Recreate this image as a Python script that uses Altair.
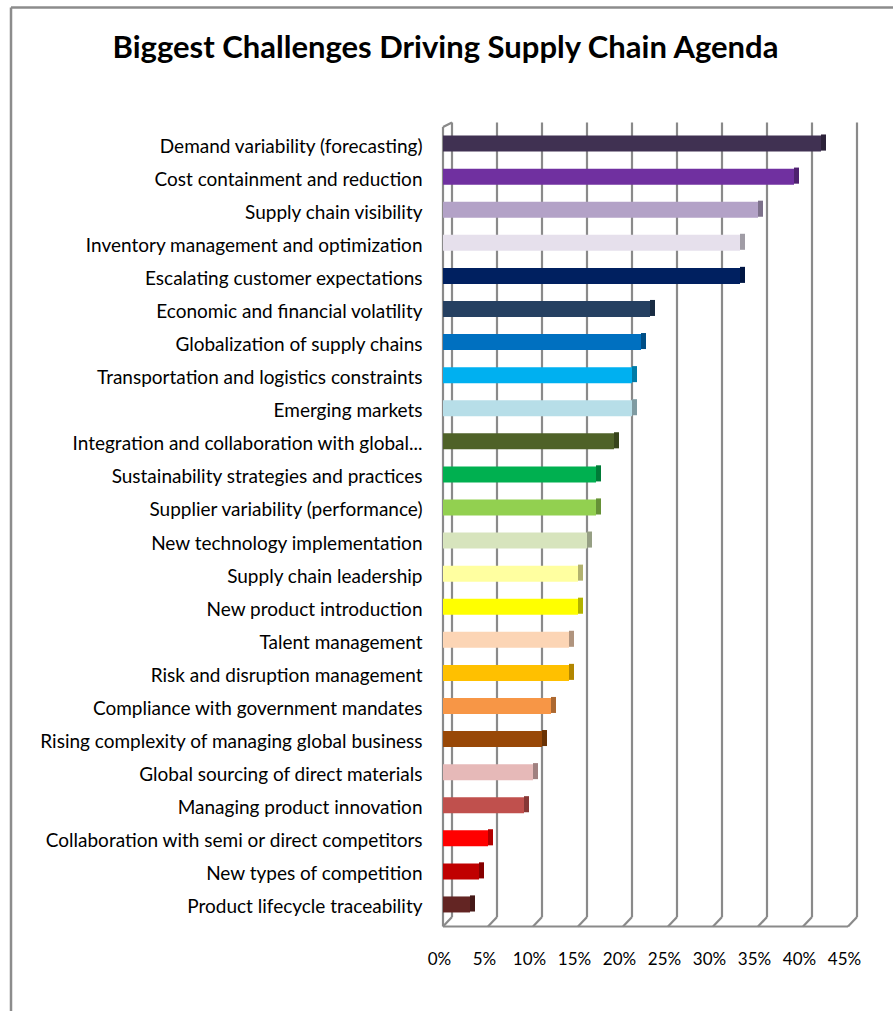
import altair as alt
import pandas as pd

title_text = "Biggest Challenges Driving Supply Chain Agenda"
categories = [
    "Demand variability (forecasting)",
    "Cost containment and reduction",
    "Supply chain visibility",
    "Inventory management and optimization",
    "Escalating customer expectations",
    "Economic and financial volatility",
    "Globalization of supply chains",
    "Transportation and logistics constraints",
    "Emerging markets",
    "Integration and collaboration with global...",
    "Sustainability strategies and practices",
    "Supplier variability (performance)",
    "New technology implementation",
    "Supply chain leadership",
    "New product introduction",
    "Talent management",
    "Risk and disruption management",
    "Compliance with government mandates",
    "Rising complexity of managing global business",
    "Global sourcing of direct materials",
    "Managing product innovation",
    "Collaboration with semi or direct competitors",
    "New types of competition",
    "Product lifecycle traceability",
]
values = [42, 39, 35, 33, 33, 23, 22, 21, 21, 19, 17, 17, 16, 15, 15, 14, 14, 12, 11, 10, 9, 5, 4, 3]
colors = [
    "#403152", "#7030A0", "#B3A2C7", "#E6E0EC", "#002060", "#254061",
    "#0070C0", "#00B0F0", "#B7DEE8", "#4F6228", "#00B050", "#92D050",
    "#D7E4BD", "#FFFFA0", "#FFFF00", "#FCD5B5", "#FFC000", "#F79646",
    "#984807", "#E6B9B8", "#C0504D", "#FF0000", "#C00000", "#632523",
]
tick_values = [0, 5, 10, 15, 20, 25, 30, 35, 40, 45]

W = 405
H = 794
GRID = "#8a8a8a"
FONT = "Lato"

df = pd.DataFrame({"cat": categories, "v": values})
gdf = pd.DataFrame({"g": tick_values})
edge = pd.DataFrame({"a": [0], "b": [45], "t": [title_text]})

xscale = alt.Scale(domain=[0, 45], nice=False, zero=True)
xaxis = alt.Axis(values=tick_values, labelExpr="datum.value + '%'", domain=False, ticks=False,
                 grid=False, labelPadding=30, labelOffset=-4, labelFont=FONT, labelFontSize=17,
                 labelOverlap=False, labelFlush=False, labelColor="#000000", title=None)
yaxis = alt.Axis(domain=False, ticks=False, labelPadding=21, labelFont=FONT, labelFontSize=19,
                 labelLimit=420, labelOffset=3, labelColor="#000000", title=None)


def X(field):
    return alt.X(field, type="quantitative", scale=xscale, axis=xaxis, title=None)


Y = alt.Y("cat:N", sort=categories, axis=yaxis, title=None,
          scale=alt.Scale(paddingInner=0, paddingOuter=0))
C = alt.Color("cat:N", scale=alt.Scale(domain=categories, range=colors), legend=None)

BORDER = "#8c8c8c"
border_left = alt.Chart(edge).mark_rule(color=BORDER, strokeWidth=2.5).encode(
    x=alt.value(-432), y=alt.value(-119.5), y2=alt.value(884)
)
border_top = alt.Chart(edge).mark_rule(color=BORDER, strokeWidth=2.5).encode(
    x=alt.value(-432), x2=alt.value(450), y=alt.value(-119.5)
)
title = alt.Chart(edge).mark_text(font=FONT, fontSize=31, fontWeight="bold", color="#000000",
                                  align="center", baseline="alphabetic").encode(
    text="t:N", x=alt.value(2.5), y=alt.value(-69)
)

back_grid = alt.Chart(gdf).mark_rule(color=GRID, strokeWidth=2.2, xOffset=9, x2Offset=9,
                                     yOffset=-4.5, y2Offset=-4).encode(
    x=X("g"), y=alt.value(0), y2=alt.value(H)
)
diag = alt.Chart(gdf).mark_rule(color=GRID, strokeWidth=2.2, xOffset=9).encode(
    x=X("g"), x2="g:Q", y=alt.value(H - 4), y2=alt.value(H + 5.5)
)
front_axis = alt.Chart(edge).mark_rule(color=GRID, strokeWidth=2.2).encode(
    x=X("a"), x2="b:Q", y=alt.value(H + 5.5)
)
left_wall = alt.Chart(edge).mark_rule(color=GRID, strokeWidth=2.2).encode(
    x=X("a"), y=alt.value(0), y2=alt.value(H + 5.5)
)
top_diag = alt.Chart(edge).mark_rule(color=GRID, strokeWidth=2.2, x2Offset=9).encode(
    x=X("a"), x2="a:Q", y=alt.value(0), y2=alt.value(-4.5)
)

bars = alt.Chart(df).mark_bar(size=16).encode(y=Y, x=X("v"), color=C)
side = alt.Chart(df).mark_bar(size=16, x2Offset=5, yOffset=-1).encode(y=Y, x=X("v"), x2="v:Q", color=C)
side_shade = alt.Chart(df).mark_bar(size=16, x2Offset=5, yOffset=-1, color="#000000", opacity=0.3).encode(
    y=Y, x=X("v"), x2="v:Q"
)

chart = alt.layer(border_left, border_top, title, back_grid, diag, front_axis, left_wall, top_diag,
                  side, side_shade, bars).properties(
    width=W,
    height=H,
    background="#ffffff",
    padding={"left": 9, "top": 6, "right": 0, "bottom": 0},
).configure_view(strokeWidth=0)

chart.save("out.html", embed_options={"renderer": "svg", "actions": False})
